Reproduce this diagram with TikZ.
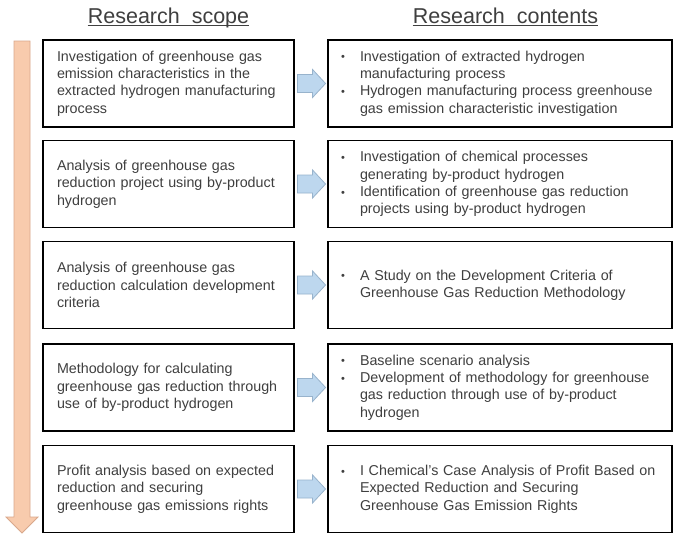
\documentclass[tikz,border=0pt]{standalone}
\usepackage{fontspec}
\setmainfont{Liberation Sans}
\definecolor{txtgray}{HTML}{3F3F3F}
\definecolor{peach}{HTML}{F8CBAD}
\definecolor{peachline}{HTML}{D9A88C}
\definecolor{lblue}{HTML}{BDD7EE}
\definecolor{lblueline}{HTML}{98B3CC}
\newcommand{\bul}{\makebox[19pt][l]{\raisebox{0.3pt}{\fontsize{11}{11}\selectfont•}}}
\newcommand{\ind}{\hspace*{19pt}}
\begin{document}
\begin{tikzpicture}[x=1pt,y=-1pt,
  scopebox/.style={draw=black,line width=1.1pt,minimum height=87pt,text width=223pt,inner xsep=14pt,inner ysep=0pt,align=left,text=txtgray,font=\fontsize{14.3}{17.4}\selectfont},
  contbox/.style={draw=black,line width=1.1pt,minimum height=87pt,text width=318pt,inner xsep=13pt,inner ysep=0pt,align=left,text=txtgray,font=\fontsize{14.3}{17.4}\selectfont},
  header/.style={inner sep=0pt,anchor=base,text=txtgray,font=\fontsize{21.5}{24}\selectfont},
  hline/.style={draw=txtgray,line width=0.9pt},
  bluearrow/.style={fill=lblue,draw=lblueline,line width=0.8pt,line join=miter},
  downarrow/.style={fill=peach,draw=peachline,line width=0.8pt,line join=miter}]
\useasboundingbox (0,0) rectangle (680,541);
\fill[white] (0,0) rectangle (680,541);

% headers
\node[header] (hs) at (168.5,23) {Research\ \ scope};
\node[header] (hc) at (505.5,23) {Research\ \ contents};
\draw[hline] ([yshift=-2.5pt]hs.base west) -- ([yshift=-2.5pt]hs.base east);
\draw[hline] ([yshift=-2.5pt]hc.base west) -- ([yshift=-2.5pt]hc.base east);

% down arrow
\draw[downarrow] (14,41) -- (30,41) -- (30,517) -- (38,517) -- (22,533) -- (6,517) -- (14,517) -- cycle;

% left boxes
\node[scopebox] (l1) at (168.5,83.5) {Investigation of greenhouse gas\\emission characteristics in the\\extracted hydrogen manufacturing\\process};
\node[scopebox] (l2) at (168.5,184) {Analysis of greenhouse gas\\reduction project using by-product\\hydrogen};
\node[scopebox] (l3) at (168.5,285) {Analysis of greenhouse gas\\reduction calculation development\\criteria};
\node[scopebox] (l4) at (168.5,387.5) {Methodology for calculating\\greenhouse gas reduction through\\use of by-product hydrogen};
\node[scopebox] (l5) at (168.5,489) {Profit analysis based on expected\\reduction and securing\\greenhouse gas emissions rights};

% right boxes
\node[contbox] (r1) at (500,83.5) {\bul Investigation of extracted hydrogen\\\ind manufacturing process\\\bul Hydrogen manufacturing process greenhouse\\\ind gas emission characteristic investigation};
\node[contbox] (r2) at (500,184) {\bul Investigation of chemical processes\\\ind generating by-product hydrogen\\\bul Identification of greenhouse gas reduction\\\ind projects using by-product hydrogen};
\node[contbox] (r3) at (500,285) {\bul A Study on the Development Criteria of\\\ind Greenhouse Gas Reduction Methodology};
\node[contbox] (r4) at (500,387.5) {\bul Baseline scenario analysis\\\bul Development of methodology for greenhouse\\\ind gas reduction through use of by-product\\\ind hydrogen};
\node[contbox] (r5) at (500,489) {\bul I Chemical's Case Analysis of Profit Based on\\\ind Expected Reduction and Securing\\\ind Greenhouse Gas Emission Rights};

% blue arrows
\foreach \i in {1,...,5}{
  \draw[bluearrow] ([xshift=3pt,yshift=9pt]l\i.east) -- ++(15,0) -- ++(0,-5) -- ++(13,14) -- ++(-13,14) -- ++(0,-5) -- ++(-15,0) -- cycle;
}
\end{tikzpicture}
\end{document}
